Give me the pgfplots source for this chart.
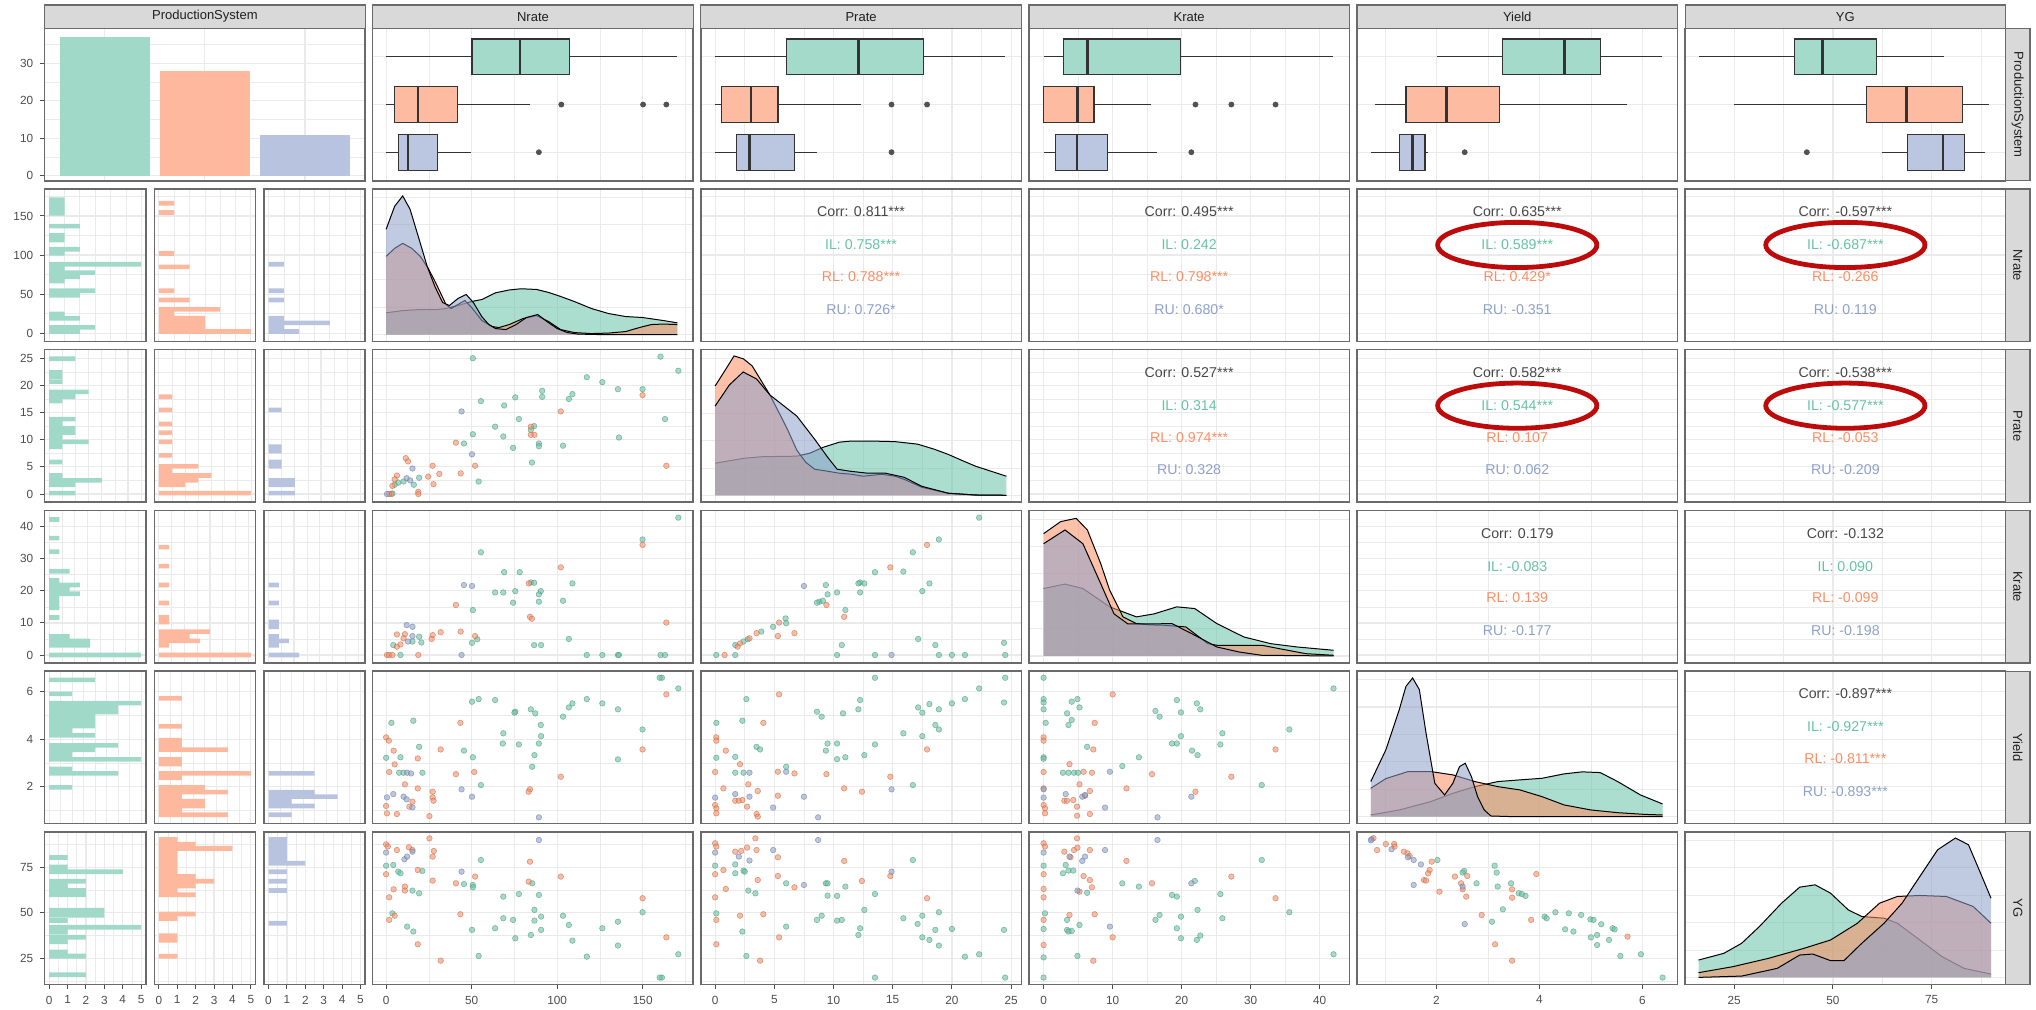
\documentclass[border=0pt]{standalone}
\usepackage{fontspec}
\setmainfont{Liberation Sans}
\usepackage{pgfplots}
\usepackage{pgfplotstable}
\pgfplotsset{compat=1.18}
\usepgfplotslibrary{statistics}

\definecolor{ILc}{HTML}{66C2A5}
\definecolor{RLc}{HTML}{FC8D62}
\definecolor{RUc}{HTML}{8DA0CB}
\definecolor{stripfill}{HTML}{D9D9D9}
\definecolor{framec}{HTML}{6A6A6A}
\definecolor{gridc}{HTML}{EAEAEA}
\definecolor{tickc}{HTML}{4D4D4D}
\definecolor{corrc}{HTML}{474747}
\definecolor{annot}{HTML}{BD0A0A}

\pgfplotsset{
  panel/.style={
    scale only axis, width=160.25pt, height=76.25pt, anchor=south west,
    axis line style={draw=framec, line width=0.75pt},
    grid=both,
    major grid style={draw=gridc, line width=0.6pt},
    minor grid style={draw=gridc, line width=0.3pt},
    tick align=outside, major tick length=2.2pt, minor tick length=0pt,
    xtick pos=left, ytick pos=left,
    xtick style={draw=none}, ytick style={draw=none},
    xticklabels={}, yticklabels={},
    tick label style={font=\fontsize{5.9}{6}\selectfont, text=tickc},
  },
  sub/.style={panel, width=50.585pt},
  xlab/.style={xticklabels={#1}, xtick style={draw=tickc, line width=0.5pt}},
  ylab/.style={yticklabels={#1}, ytick style={draw=tickc, line width=0.5pt}},
  % variable scales
  xN/.style={xmin=-7.84, xmax=179.5, xtick={0,50,100,150}, minor xtick={25,75,125,175}},
  yN/.style={ymin=-10.5, ymax=184.5, ytick={0,50,100,150}, minor ytick={25,75,125,175}},
  xP/.style={xmin=-1.21, xmax=25.86, xtick={0,5,...,25}, minor xtick={2.5,7.5,12.5,17.5,22.5}},
  yP/.style={ymin=-1.51, ymax=26.57, ytick={0,5,...,25}, minor ytick={2.5,7.5,12.5,17.5,22.5}},
  xK/.style={xmin=-2.13, xmax=44.3, xtick={0,10,...,40}, minor xtick={5,15,25,35}},
  yK/.style={ymin=-2.46, ymax=45.05, ytick={0,10,...,40}, minor ytick={5,15,25,35}},
  xY/.style={xmin=0.46, xmax=6.68, xtick={2,4,6}, minor xtick={1,3,5}},
  yY/.style={ymin=0.446, ymax=6.87, ytick={2,4,6}, minor ytick={1,3,5}},
  xG/.style={xmin=12.6, xmax=93.7, xtick={25,50,75}, minor xtick={37.5,62.5,87.5}},
  yG/.style={ymin=10.7, ymax=94.5, ytick={25,50,75}, minor ytick={12.5,37.5,62.5,87.5}},
  yC/.style={ymin=-1.36, ymax=39.4, ytick={0,10,20,30}, minor ytick={5,15,25,35}},
  xB/.style={xmin=0.4, xmax=3.6, xtick={1,2,3}},
  yB/.style={ymin=0.4, ymax=3.6, ytick={1,2,3}},
  yD/.style={ymin=-6.9, ymax=145.2, ytick={0,54.7,109.4}, minor ytick={27.3,82,136.7}},
  % count scales of the faceted histograms (one per row)
  h6/.style={xmin=-0.3, xmax=6.3, xtick={0,2,4,6}, minor xtick={1,3,5}},
  h7/.style={xmin=-0.35, xmax=7.35, xtick={0,2,4,6}, minor xtick={1,3,5,7}},
  h9/.style={xmin=-0.45, xmax=9.45, xtick={0,2.5,5,7.5}, minor xtick={1.25,3.75,6.25,8.75}},
  h4/.style={xmin=-0.2, xmax=4.2, xtick={0,...,4}, minor xtick={0.5,1.5,2.5,3.5}},
  h5/.style={xmin=-0.25, xmax=5.25, xtick={0,...,5}, minor xtick={0.5,1.5,2.5,3.5,4.5}},
  % marks
  sIL/.style={only marks, mark=*, mark size=1.4pt, mark options={fill=ILc, draw=ILc!70!black, line width=0.3pt, fill opacity=0.6, draw opacity=0.55}},
  sRL/.style={only marks, mark=*, mark size=1.4pt, mark options={fill=RLc, draw=RLc!70!black, line width=0.3pt, fill opacity=0.6, draw opacity=0.55}},
  sRU/.style={only marks, mark=*, mark size=1.4pt, mark options={fill=RUc, draw=RUc!70!black, line width=0.3pt, fill opacity=0.6, draw opacity=0.55}},
  hb/.style={xbar, bar shift=0pt, draw=none, fill=#1!62},
  outl/.style={only marks, mark=*, mark size=1.25pt, color=black!68},
}

\tikzset{ctext/.style={font=\fontsize{7.1}{7.8}\selectfont, anchor=center}}

% density: filled area plus upper outline
\newcommand{\dens}[2]{%
  \addplot[draw=none, fill=#1, fill opacity=0.55] table {#2} \closedcycle;
  \addplot[draw=black, line width=0.5pt] table {#2};}

% horizontal box plot from prepared statistics
\newcommand{\bx}[7]{%
  \addplot[fill=#1!60, draw=black!80, line width=0.55pt,
    boxplot/draw direction=x, boxplot/whisker extend=0,
    boxplot/every median/.style={line width=1.2pt},
    boxplot prepared={draw position=#2, lower whisker=#3, lower quartile=#4,
      median=#5, upper quartile=#6, upper whisker=#7, box extend=0.75}] coordinates {};}

% correlation text panel
\newcommand{\corr}[4]{%
  \node[ctext, text=corrc] at (rel axis cs:0.5,0.851) {Corr: #1};
  \node[ctext, text=ILc] at (rel axis cs:0.5,0.633) {IL: #2};
  \node[ctext, text=RLc] at (rel axis cs:0.5,0.425) {RL: #3};
  \node[ctext, text=RUc] at (rel axis cs:0.5,0.211) {RU: #4};}

\newcommand{\ring}{\draw[annot, line width=2.4pt] (rel axis cs:0.5,0.633) ellipse [x radius=39.8pt, y radius=11.3pt];}

% ---------------- density curves ----------------
\pgfplotstableread{
x y
0 21.7
10 24
20 25
30 25
35 26
42 29
50 33
56 35
64 41.7
72 44.5
79 45.7
88 45
95 42
102 38
110 33
120 26
130 21
140 18
150 17
162 14
170.3 11.7
}\dNIL
\pgfplotstableread{
x y
0 78
5 86
9.7 91
15 86
20 78
25 65
30 48
35 30
38 26
42 30
46 34
50 27
56 14
62 8
66 7
72 10
80 16
88 19
95 13
102 5
110 2
120 1
130 1.5
140 3
148 7
155 10
162 10.5
170.3 10
}\dNRL
\pgfplotstableread{
x y
0 105
5 128
9.7 138.3
14 125
19.3 95
24 68
28.5 48
33 32
37 29
42 36
46.8 40
51 32
55.9 18
60 10
64 6
70 5
76 10
82 17
88.6 20
94 13
100 6
106 2
112 0.5
125 0
170.3 0
}\dNRU

\pgfplotstableread{
x y
0 32
1 34
2.5 37
4 38.5
6.9 39
8 42
9.16 48
10.5 53
11.42 54
13.5 54
15.2 53.5
17.1 51
18.5 46
19.7 40.7
21 34
22 29
23.3 24
24.6 19
}\dPIL
\pgfplotstableread{
x y
0 109
0.86 125
1.6 139
2.4 136
3.13 129
4.63 100
5.5 80
6.14 65
6.9 45
7.65 33
8.4 26
9.5 24
10.5 22
11.5 21
12.5 19
13.3 20
14.06 21
15.2 19
15.95 16
17.45 8
19.7 2
22 0.3
24.6 0
}\dPRL
\pgfplotstableread{
x y
0 89
1.2 110
2.37 123
3.5 116
4.63 100
5.5 92
6.9 79
8.4 56
9.5 38
10.3 26
11.4 24
12.9 22
14.4 22
15.95 18
17.45 9
19.7 2
22 0.2
24.6 0
}\dPRU

\pgfplotstableread{
x y
0 67.3
3.1 71.7
5.69 67.3
9.57 49
13.45 39
16.0 42
19.3 49
21.9 47.3
25.1 32.3
29 19
32.9 12.3
36.7 9
42 5.7
}\dKIL
\pgfplotstableread{
x y
0 122
2.46 134
4.72 137.3
6.34 125.7
8.28 92
9.57 65.7
11.5 39
13.45 32.3
15.4 31
17.3 30.7
20.6 29
23.8 12.3
25.1 10.7
28.3 10.7
31.6 10.7
34.15 7.3
38 2.3
42 0.7
}\dKRL
\pgfplotstableread{
x y
0 112
3.1 125.7
5.69 112
8.28 72
10.2 42
12.2 32
15.4 32
18.6 32.3
21.9 20.7
25.1 9
28.3 4
31.6 0.7
42 0
}\dKRU

\pgfplotstableread{
x y
0.727 1.7
1.28 6.7
1.89 15
2.32 23.3
2.75 30
3.19 35
3.62 36.7
4.05 38.3
4.48 42.7
4.83 44.7
5.18 44
5.52 35
5.96 21.7
6.39 12.7
}\dYIL
\pgfplotstableread{
x y
0.727 28.3
1.02 38
1.45 45
1.89 45
2.32 41.7
2.75 35
3.19 30
3.62 26.7
4.05 20
4.48 11.7
5.0 6.7
5.52 4
6.04 2.3
6.39 1.7
}\dYRL
\pgfplotstableread{
x y
0.727 35
1.02 66.7
1.28 106.7
1.41 130
1.54 138.3
1.67 126.7
1.80 83.3
1.97 33.3
2.16 21.7
2.32 33.3
2.45 50
2.56 53.3
2.68 40
2.80 20
2.93 6.7
3.06 0.7
3.5 0
6.39 0
}\dYRU

\pgfplotstableread{
x y
16 17.3
22.4 24
26.9 34
31.4 50.7
37 74
41.6 90
45.5 92.3
49.4 84
53.9 67.3
57.3 60.7
62.95 59
66.3 54
72 37.3
77.6 20.7
83.2 9
90 3.3
}\dGIL
\pgfplotstableread{
x y
16 4.7
24.7 10.7
33.7 19
42.7 29
49.4 37.3
56.2 54
61.8 74
66.3 80.7
72 81.7
78.7 80.7
85.5 70.7
90 54
}\dGRL
\pgfplotstableread{
x y
16 0
26.9 1.3
35.9 9
41.6 22.3
44.9 23.3
49.4 16.7
52.8 16.7
57.3 34
62.95 54
67.5 74
72 100.7
76.5 127.3
81 139
84.3 132.3
87.7 100.7
90 79
}\dGRU

\begin{document}
\begin{tikzpicture}

% ================= row 1: ProductionSystem =================
\begin{axis}[panel, at={(22.3pt,414.1pt)}, xB, yC, ylab={0,10,20,30}]
\addplot[ybar, bar shift=0pt, bar width=0.9, draw=none, fill=ILc!62] coordinates {(1,37)};
\addplot[ybar, bar shift=0pt, bar width=0.9, draw=none, fill=RLc!62] coordinates {(2,28)};
\addplot[ybar, bar shift=0pt, bar width=0.9, draw=none, fill=RUc!62] coordinates {(3,11)};
\end{axis}

\begin{axis}[panel, at={(186.35pt,414.1pt)}, xN, yB]
\bx{ILc}{3}{0}{50.2}{78.1}{107.4}{170.3}
\bx{RLc}{2}{0}{5.0}{18.5}{41.5}{84.1}
\bx{RUc}{1}{0}{7.1}{12.8}{30.0}{49.4}
\addplot[outl] coordinates {(102.4,2) (150.2,2) (163.8,2) (89.3,1)};
\end{axis}

\begin{axis}[panel, at={(350.4pt,414.1pt)}, xP, yB]
\bx{ILc}{3}{0}{6.03}{12.1}{17.6}{24.5}
\bx{RLc}{2}{0}{0.57}{3.05}{5.31}{12.3}
\bx{RUc}{1}{0}{1.8}{2.9}{6.7}{8.6}
\addplot[outl] coordinates {(14.9,2) (17.9,2) (14.9,1)};
\end{axis}

\begin{axis}[panel, at={(514.45pt,414.1pt)}, xK, yB]
\bx{ILc}{3}{0}{2.85}{6.35}{19.8}{41.9}
\bx{RLc}{2}{0}{0}{4.9}{7.3}{15.6}
\bx{RUc}{1}{0}{1.7}{4.8}{9.25}{16.4}
\addplot[outl] coordinates {(22.0,2) (27.2,2) (33.6,2) (21.4,1)};
\end{axis}

\begin{axis}[panel, at={(678.5pt,414.1pt)}, xY, yB]
\bx{ILc}{3}{2.02}{3.28}{4.49}{5.19}{6.37}
\bx{RLc}{2}{0.80}{1.41}{2.2}{3.23}{5.70}
\bx{RUc}{1}{0.73}{1.29}{1.54}{1.78}{1.84}
\addplot[outl] coordinates {(2.55,1)};
\end{axis}

\begin{axis}[panel, at={(842.55pt,414.1pt)}, xG, yB]
\bx{ILc}{3}{16.0}{40.3}{47.4}{61.0}{78.0}
\bx{RLc}{2}{25.0}{58.4}{68.6}{82.9}{89.6}
\bx{RUc}{1}{62.4}{68.9}{77.8}{83.2}{88.5}
\addplot[outl] coordinates {(43.4,1)};
\end{axis}

% ================= row 2: Nrate =================
\begin{axis}[sub, at={(22.3pt,333.75pt)}, h6, yN, ylab={0,50,100,150}]
\addplot[hb=ILc, bar width=5.9] coordinates {(1,171) (1,165.3) (1,159.4) (1,153.5) (2,137.1) (1,125.2) (1,119.3) (2,107.4) (1,102.1) (6,88.3) (1,82.8) (3,77.5) (2,72.2) (1,66.9) (3,54.4) (2,48.5) (1,24.8) (2,19.3) (3,7.6) (2,2.3)};
\end{axis}
\begin{axis}[sub, at={(77.135pt,333.75pt)}, h6, yN]
\addplot[hb=RLc, bar width=5.9] coordinates {(1,166.3) (1,154.4) (1,102) (2,85) (1,54.4) (2,42.6) (4,30.5) (1,25) (3,19.3) (3,13.4) (3,7.6) (6,2.3)};
\end{axis}
\begin{axis}[sub, at={(131.965pt,333.75pt)}, h6, yN]
\addplot[hb=RUc, bar width=5.9] coordinates {(1,88.3) (1,54.4) (1,42.6) (1,19.3) (4,13.4) (1,7.6) (2,2.3)};
\end{axis}

\begin{axis}[panel, at={(186.35pt,333.75pt)}, xN, yD]
\dens{ILc}{\dNIL}
\dens{RLc}{\dNRL}
\dens{RUc}{\dNRU}
\end{axis}

\begin{axis}[panel, at={(350.4pt,333.75pt)}, xP, yN, clip=false]
\corr{0.811***}{0.758***}{0.788***}{0.726*}
\end{axis}
\begin{axis}[panel, at={(514.45pt,333.75pt)}, xK, yN, clip=false]
\corr{0.495***}{0.242}{0.798***}{0.680*}
\end{axis}
\begin{axis}[panel, at={(678.5pt,333.75pt)}, xY, yN, clip=false]
\corr{0.635***}{0.589***}{0.429*}{-0.351}
\ring
\end{axis}
\begin{axis}[panel, at={(842.55pt,333.75pt)}, xG, yN, clip=false]
\corr{-0.597***}{-0.687***}{-0.266}{0.119}
\ring
\end{axis}

% ================= row 3: Prate =================
\begin{axis}[sub, at={(22.3pt,253.4pt)}, h7, yP, ylab={0,5,10,15,20,25}]
\addplot[hb=ILc, bar width=0.845] coordinates {(2,24.9) (1,22.4) (1,21.6) (1,20.7) (3,18.8) (2,17.9) (1,17.1) (2,13.8) (1,13.0) (2,12.1) (2,11.3) (1,10.4) (3,9.6) (1,8.7) (1,5.9) (1,3.4) (4,2.5) (2,1.7) (2,0.15)};
\end{axis}
\begin{axis}[sub, at={(77.135pt,253.4pt)}, h7, yP]
\addplot[hb=RLc, bar width=0.845] coordinates {(1,17.9) (1,15.5) (1,12.9) (1,11.3) (1,9.6) (1,7.1) (3,5.1) (1,4.3) (4,3.4) (3,2.5) (2,1.7) (7,0.15)};
\end{axis}
\begin{axis}[sub, at={(131.965pt,253.4pt)}, h7, yP]
\addplot[hb=RUc, bar width=0.845] coordinates {(1,15.5) (1,8.7) (1,7.9) (1,5.9) (1,5.1) (2,2.5) (2,1.7) (2,0.15)};
\end{axis}

\begin{axis}[panel, at={(186.35pt,253.4pt)}, xN, yP]
\addplot[sIL] coordinates {(50.7,25) (160.4,25.3) (170.8,22.7) (117.3,21.5) (126.4,20.6) (135.5,19.3) (149.9,19.3) (91.2,19.0) (91.2,17.9) (75.5,17.8) (108.9,18.4) (106.8,17.5) (55.4,17.1) (69.0,16.3) (77.6,13.8) (163,13.8) (63.7,12.4) (86.5,12.5) (84.6,11.8) (50.7,11.0) (68.5,10.6) (136.1,10.4) (45.5,9.3) (89.3,9.3) (89.3,8.8) (103.4,8.9) (74.2,8.5) (85.2,5.8) (54.1,2.3) (19.3,3.0) (10.2,2.3) (16.2,1.7) (7.1,2.1) (5.0,1.7) (3.7,0.1)};
\addplot[sRL] coordinates {(149.9,18.2) (102.1,15.2) (84.6,12.4) (84.6,10.9) (86.7,10.9) (40.8,9.45) (52,5.2) (163.8,5.2) (43.6,3.8) (27.2,5.2) (31.1,3.7) (24.6,3.2) (27.7,1.8) (11.5,6.6) (12.8,6.0) (6.3,3.4) (5.0,2.7) (3.7,1.5) (18.8,0.4) (18.8,0) (3.1,0) (1.8,0)};
\addplot[sRU] coordinates {(44.1,15.2) (50.2,7.3) (15.4,4.7) (12,2.9) (14.1,2.5) (0.5,0)};
\end{axis}

\begin{axis}[panel, at={(350.4pt,253.4pt)}, xP, yD]
\dens{ILc}{\dPIL}
\dens{RLc}{\dPRL}
\dens{RUc}{\dPRU}
\end{axis}

\begin{axis}[panel, at={(514.45pt,253.4pt)}, xK, yP, clip=false]
\corr{0.527***}{0.314}{0.974***}{0.328}
\end{axis}
\begin{axis}[panel, at={(678.5pt,253.4pt)}, xY, yP, clip=false]
\corr{0.582***}{0.544***}{0.107}{0.062}
\ring
\end{axis}
\begin{axis}[panel, at={(842.55pt,253.4pt)}, xG, yP, clip=false]
\corr{-0.538***}{-0.577***}{-0.053}{-0.209}
\ring
\end{axis}

% ================= row 4: Krate =================
\begin{axis}[sub, at={(22.3pt,173.05pt)}, h9, yK, ylab={0,10,20,30,40}]
\addplot[hb=ILc, bar width=1.448] coordinates {(1,42.2) (1,36.4) (1,32.2) (2,26.1) (1,23.2) (3,21.8) (2,20.5) (3,19.1) (1,17.6) (1,16.2) (1,14.7) (1,11.7) (2,5.8) (4,4.4) (4,3.0) (9,0)};
\end{axis}
\begin{axis}[sub, at={(77.135pt,173.05pt)}, h9, yK]
\addplot[hb=RLc, bar width=1.448] coordinates {(1,33.6) (1,27.7) (1,21.8) (1,16.2) (1,11.7) (1,10.3) (5,7.3) (3,5.8) (4,4.4) (1,3.0) (9,0)};
\end{axis}
\begin{axis}[sub, at={(131.965pt,173.05pt)}, h9, yK]
\addplot[hb=RUc, bar width=1.448] coordinates {(1,21.8) (1,16.2) (1,10.3) (1,8.8) (1,5.8) (2,4.4) (1,3.0) (3,0)};
\end{axis}

\begin{axis}[panel, at={(186.35pt,173.05pt)}, xN, yK]
\addplot[sIL] coordinates {(170.8,42.8) (149.9,36.0) (55.4,32.0) (69.0,25.8) (78.1,25.8) (108.9,22.3) (84.6,22.6) (86.5,22.5) (63.7,19.5) (68.5,19.5) (75.5,19.9) (90.4,19.9) (89.3,18.9) (74.2,16.3) (89.3,16.6) (103.4,16.9) (50.7,14.0) (53.3,4.9) (50.2,3.8) (106.8,5.0) (86.5,3.1) (90.6,3.1) (19.3,5.7) (15.4,4.2) (20.6,3.9) (4.2,3.1) (8.4,0) (117.3,0) (126.4,0) (135.5,0) (136.1,0) (160.4,0) (163,0)};
\addplot[sRL] coordinates {(149.9,34.3) (102.1,27.3) (83.4,22.3) (40.8,15.6) (84.1,11.9) (85.2,11.3) (163.8,10.1) (43.6,7.3) (52,5.9) (31.9,7.1) (27.2,6.2) (26.6,5.0) (6.3,6.4) (11,6.5) (10.2,5.2) (6.3,2.6) (8.4,3.3) (0.5,0) (1.8,0) (3.7,0) (18.8,0)};
\addplot[sRU] coordinates {(45.5,21.8) (50.2,21.5) (12,9.3) (15.4,8.8) (15.4,5.9) (12.8,4.2) (44.1,0)};
\end{axis}

\begin{axis}[panel, at={(350.4pt,173.05pt)}, xP, yK]
\addplot[sIL] coordinates {(22.3,42.8) (18.9,36.0) (16.7,32.0) (13.5,25.8) (15.9,26.0) (12.25,22.6) (12.1,22.3) (12.6,22.3) (9.35,21.8) (18.1,22.3) (10.3,19.5) (9.5,18.9) (12.25,19.5) (17.5,19.9) (8.8,16.6) (8.6,16.3) (9.1,16.9) (11.0,14.0) (5.95,11.4) (6.0,9.9) (4.9,8.8) (3.9,7.3) (2.75,4.9) (2.4,4.2) (1.7,3.1) (10.7,3.1) (17.15,5.0) (18.6,3.1) (24.4,3.8) (0.1,0) (1.7,0) (10.3,0) (13.5,0) (18.9,0) (20.0,0) (21.1,0) (24.5,0)};
\addplot[sRL] coordinates {(17.9,34.3) (14.8,27.3) (9.4,15.6) (10.9,11.9) (6.7,6.8) (5.3,5.9) (5.4,10.1) (3.5,6.8) (2.9,5.2) (2.1,3.6) (1.9,2.6) (0.8,0)};
\addplot[sRU] coordinates {(7.5,21.5) (14.9,0)};
\end{axis}

\begin{axis}[panel, at={(514.45pt,173.05pt)}, xK, yD]
\dens{ILc}{\dKIL}
\dens{RLc}{\dKRL}
\dens{RUc}{\dKRU}
\end{axis}

\begin{axis}[panel, at={(678.5pt,173.05pt)}, xY, yK, clip=false]
\corr{0.179}{-0.083}{0.139}{-0.177}
\end{axis}
\begin{axis}[panel, at={(842.55pt,173.05pt)}, xG, yK, clip=false]
\corr{-0.132}{0.090}{-0.099}{-0.198}
\end{axis}

% ================= row 5: Yield =================
\begin{axis}[sub, at={(22.3pt,92.7pt)}, h4, yY, ylab={2,4,6}]
\addplot[hb=ILc, bar width=0.195] coordinates {(2,6.50) (1,5.91) (4,5.52) (3,5.33) (3,5.14) (2,4.97) (2,4.77) (2,4.56) (1,4.37) (2,4.17) (3,3.74) (2,3.55) (1,3.35) (4,3.15) (1,2.75) (3,2.56) (1,1.97)};
\end{axis}
\begin{axis}[sub, at={(77.135pt,92.7pt)}, h4, yY]
\addplot[hb=RLc, bar width=0.195] coordinates {(1,5.72) (1,4.54) (1,3.96) (1,3.76) (3,3.56) (1,3.15) (1,2.95) (4,2.56) (1,2.37) (2,1.97) (3,1.77) (1,1.58) (2,1.39) (2,1.19) (1,1.0) (3,0.82)};
\end{axis}
\begin{axis}[sub, at={(131.965pt,92.7pt)}, h4, yY]
\addplot[hb=RUc, bar width=0.195] coordinates {(2,2.56) (2,1.77) (3,1.58) (1,1.39) (2,1.19) (1,0.82)};
\end{axis}

\begin{axis}[panel, at={(186.35pt,92.7pt)}, xN, yY]
\addplot[sIL] coordinates {(161.2,6.59) (159.9,6.59) (170.8,6.14) (50.2,5.58) (54.1,5.69) (63.7,5.65) (117.3,5.69) (126.4,5.51) (135.5,5.26) (75.5,5.16) (75,5.12) (84.6,5.26) (87.2,5.09) (108.9,5.51) (106.8,5.34) (103.4,4.95) (3.1,4.69) (15.9,4.78) (90.4,4.60) (149.9,4.41) (68.5,4.25) (90.6,4.13) (68.2,3.82) (77.6,3.78) (89.3,3.82) (19.3,3.68) (45.5,3.52) (86.7,3.33) (50.7,3.24) (135.5,3.15) (0,3.22) (8.4,3.24) (85.4,2.84) (7.6,2.59) (10.2,2.59) (21.2,2.59) (55.4,2.07)};
\addplot[sRL] coordinates {(163.8,5.89) (43.4,4.69) (0,4.08) (1.6,3.94) (31.9,3.57) (149.9,3.57) (4.4,3.52) (18.5,3.19) (5.0,2.94) (1.8,2.62) (51.5,2.62) (40.8,2.53) (102.1,2.42) (11,2.10) (18.5,1.93) (84.1,1.89) (83.3,1.79) (27.2,1.79) (27.2,1.55) (27.7,1.41) (15.4,1.37) (13.6,1.16) (0,1.19) (0.5,0.88) (6.3,0.85) (25.3,0.76)};
\addplot[sRU] coordinates {(12.3,2.59) (14.6,2.56) (44.1,1.89) (0.5,1.55) (4.2,1.69) (10.2,1.58) (12,1.47) (50.2,1.58) (15.4,1.13) (89.3,0.71)};
\end{axis}

\begin{axis}[panel, at={(350.4pt,92.7pt)}, xP, yY]
\addplot[sIL] coordinates {(13.5,6.59) (24.5,6.59) (22.3,6.14) (2.64,5.69) (12.25,5.65) (21.1,5.69) (24.4,5.55) (17.15,5.34) (18.1,5.48) (20.0,5.51) (12.1,5.26) (17.5,5.12) (18.9,5.26) (8.6,5.16) (9.0,4.95) (10.8,5.09) (0.1,4.69) (2.3,4.78) (18.6,4.60) (18.9,4.41) (15.9,4.25) (17.5,4.13) (9.5,3.82) (10.3,3.82) (13.5,3.78) (3.5,3.68) (3.8,3.57) (9.35,3.52) (12.6,3.33) (0.1,3.22) (1.7,3.26) (10.3,3.16) (11.0,3.24) (1.7,2.59) (2.4,2.59) (6.0,2.84) (16.7,2.07)};
\addplot[sRL] coordinates {(5.4,5.89) (4.07,4.69) (0.1,4.08) (0.1,3.94) (17.9,3.57) (0.9,3.52) (2.1,2.95) (0,2.62) (5.3,2.63) (6.7,2.56) (9.4,2.53) (14.8,2.42) (0.7,1.93) (2.8,2.10) (10.9,1.93) (12.4,1.79) (3.6,1.82) (5.3,1.62) (1.7,1.41) (2.0,1.41) (2.3,1.44) (0,1.23) (0.1,1.09) (0.1,0.88) (2.7,1.16) (3.5,0.85) (3.6,0.74)};
\addplot[sRU] coordinates {(2.9,2.59) (6.0,2.63) (14.9,1.89) (0,1.54) (1.7,1.69) (2.9,1.58) (7.5,1.58) (4.9,1.12) (8.7,0.71)};
\end{axis}

\begin{axis}[panel, at={(514.45pt,92.7pt)}, xK, yY]
\addplot[sIL] coordinates {(0,6.59) (42.0,6.14) (0,5.69) (0,5.55) (0,5.26) (4.07,5.58) (4.9,5.69) (5.2,5.34) (3.4,5.09) (4.07,4.81) (3.6,4.60) (19.3,5.65) (22.2,5.51) (22.7,5.26) (16.2,5.19) (16.8,4.95) (19.9,5.13) (0.3,4.69) (35.6,4.41) (25.9,4.25) (25.6,3.78) (19.9,4.13) (18.6,3.82) (19.3,3.82) (6.3,3.68) (21.5,3.52) (22.3,3.33) (0,3.24) (0,3.18) (13.8,3.24) (11.4,2.87) (2.8,2.59) (3.6,2.59) (4.4,2.59) (5.0,2.59) (31.6,2.07)};
\addplot[sRL] coordinates {(10.0,5.89) (7.4,4.69) (0,4.08) (0,3.94) (7.2,3.57) (33.6,3.57) (3.75,2.95) (0,2.62) (5.8,2.63) (7.0,2.59) (15.7,2.53) (27.2,2.42) (0,1.93) (5.2,2.10) (12.0,1.93) (6.7,1.82) (6.0,1.62) (22.0,1.79) (3.0,1.41) (3.4,1.41) (4.3,1.44) (0,1.23) (0.2,1.09) (0.2,0.88) (4.85,1.16) (4.85,0.78) (6.7,0.85)};
\addplot[sRU] coordinates {(9.6,2.63) (0,1.89) (21.4,1.58) (0,1.54) (3.2,1.69) (5.6,1.58) (6.0,1.65) (8.9,1.12) (16.5,0.71)};
\end{axis}

\begin{axis}[panel, at={(678.5pt,92.7pt)}, xY, yD]
\dens{ILc}{\dYIL}
\dens{RLc}{\dYRL}
\dens{RUc}{\dYRU}
\end{axis}

\begin{axis}[panel, at={(842.55pt,92.7pt)}, xG, yY, clip=false]
\corr{-0.897***}{-0.927***}{-0.811***}{-0.893***}
\end{axis}

% ================= row 6: YG =================
\begin{axis}[sub, at={(22.3pt,12.35pt)}, h5, yG, ylab={25,50,75}, xlab={0,1,2,3,4,5}]
\addplot[hb=ILc, bar width=2.64] coordinates {(1,80.4) (1,75.1) (4,72.5) (2,67.3) (1,64.8) (2,62.3) (2,59.9) (3,51.4) (3,48.6) (1,45.8) (5,42.1) (1,39.4) (2,36.6) (1,34.1) (1,28.5) (2,26.2) (2,15.9)};
\end{axis}
\begin{axis}[sub, at={(77.135pt,12.35pt)}, h5, yG, xlab={0,1,2,3,4,5}]
\addplot[hb=RLc, bar width=2.64] coordinates {(1,90.3) (2,87.7) (4,85.4) (1,82.9) (1,80.2) (1,77.6) (1,75.0) (1,72.5) (2,69.9) (3,67.3) (2,64.8) (1,62.3) (2,59.9) (2,49.3) (1,46.9) (1,37.3) (1,34.9) (1,26.1)};
\end{axis}
\begin{axis}[sub, at={(131.965pt,12.35pt)}, h5, yG, xlab={0,1,2,3,4,5}]
\addplot[hb=RUc, bar width=2.64] coordinates {(1,90.3) (1,87.7) (1,85.0) (1,82.4) (1,79.8) (2,77.2) (1,72.5) (1,67.3) (1,62.3) (1,44.3)};
\end{axis}

\begin{axis}[panel, at={(186.35pt,12.35pt)}, xN, yG, xlab={0,50,100,150}]
\addplot[sIL] coordinates {(55.4,79.0) (0,75.9) (4.2,76.3) (7.1,72.6) (8.4,71.7) (21.2,73.0) (45.5,65.8) (50.7,65.3) (50.7,64.0) (85.4,66.2) (15.4,62.2) (19.3,60.7) (68.5,58.9) (77.6,60.3) (89.3,59.8) (86.7,51.6) (149.9,50.3) (3.7,49.7) (103.4,48.4) (90.6,47.9) (68.5,47.0) (74.2,46.1) (86.7,45.7) (135.5,45.1) (106.8,43.3) (12.3,42.4) (63.7,41.5) (50.2,40.6) (90.6,40.6) (126.4,41.5) (15.9,39.7) (84.6,37.8) (75.5,36.0) (108.9,34.7) (135.5,32.0) (170.8,27.2) (54.1,26.3) (117.3,25.9) (161.2,14.4) (159.9,14.4)};
\addplot[sRL] coordinates {(25.3,90.9) (0,87.6) (1.0,86.4) (6.3,84.5) (13.3,86.0) (15.4,84.5) (27.9,84.0) (27.2,80.9) (84.1,78.1) (0,71.2) (18.5,73.5) (52,69.9) (102.1,69.9) (27.2,67.7) (40.8,66.2) (83.3,67.1) (4.4,62.9) (11,64.4) (11,62.2) (1.8,58.5) (149.9,58.0) (5.0,48.4) (43.4,49.2) (1.8,46.1) (163.8,36.5) (18.5,32.7) (31.9,23.7)};
\addplot[sRU] coordinates {(89.3,90.0) (0,83.1) (15.4,83.6) (10.7,79.4) (12.3,80.9) (44.1,72.6)};
\end{axis}

\begin{axis}[panel, at={(350.4pt,12.35pt)}, xP, yG, xlab={0,5,10,15,20,25}]
\addplot[sIL] coordinates {(16.7,79.0) (0,75.9) (1.7,76.6) (1.7,71.7) (2.4,73.2) (2.5,72.6) (6.0,66.2) (9.35,66.2) (9.5,66.2) (11.0,64.4) (2.8,62.2) (3.4,60.7) (9.5,59.4) (10.3,59.3) (13.5,60.3) (12.6,51.6) (18.9,50.3) (0.1,49.7) (9.0,48.4) (8.6,46.1) (17.5,48.4) (10.3,45.7) (10.7,46.1) (15.9,47.0) (17.1,43.9) (6.0,42.4) (12.25,41.5) (18.6,40.6) (20.0,41.1) (24.4,40.6) (2.3,39.7) (12.1,37.8) (17.5,36.5) (18.1,35.1) (18.9,32.0) (2.64,26.3) (21.1,25.9) (22.3,27.2) (13.5,14.4) (24.5,14.4)};
\addplot[sRL] coordinates {(3.4,90.9) (0,88.2) (0.1,86.4) (1.7,83.6) (2.2,84.0) (2.7,85.8) (3.5,84.5) (5.3,80.5) (10.9,78.5) (0,71.2) (0.7,73.5) (14.8,70.2) (5.3,70.2) (3.6,68.0) (12.4,67.5) (6.7,64.0) (0.9,63.1) (0,58.5) (17.9,58.0) (2.1,48.4) (4.07,49.2) (0.1,46.1) (5.4,36.5) (0.1,32.7) (3.8,23.7)};
\addplot[sRU] coordinates {(8.7,90.0) (0,83.1) (4.9,84.5) (2.0,80.9) (2.9,78.7) (14.9,72.6) (7.5,65.3)};
\end{axis}

\begin{axis}[panel, at={(514.45pt,12.35pt)}, xK, yG, xlab={0,10,20,30,40}]
\addplot[sIL] coordinates {(31.6,79.0) (0,75.9) (3.2,76.3) (2.8,71.7) (3.6,73.2) (4.3,73.2) (21.9,67.5) (11.4,66.2) (6.3,61.0) (13.8,64.4) (18.6,59.8) (19.3,58.9) (25.6,60.3) (22.3,51.6) (35.6,50.3) (0.2,49.7) (16.8,48.8) (16.2,46.1) (19.9,47.9) (25.9,47.0) (3.4,46.1) (5.2,43.3) (0,41.1) (3.4,40.6) (4.07,40.0) (19.3,41.5) (3.6,39.7) (19.9,36.0) (22.2,35.1) (22.7,37.5) (0,25.5) (4.9,26.3) (42.0,27.2) (0,14.4)};
\addplot[sRL] coordinates {(4.85,90.9) (0,88.2) (0.2,86.4) (3.0,83.6) (4.4,84.5) (4.9,85.8) (6.7,84.5) (3.9,80.5) (12.0,78.5) (0,71.2) (5.8,70.2) (6.7,68.0) (27.2,69.9) (15.7,66.2) (5.2,61.6) (7.0,64.0) (0,63.1) (0,58.5) (33.6,58.0) (3.75,48.8) (7.4,49.2) (0,46.1) (10.0,36.5) (0,32.3) (7.2,23.7)};
\addplot[sRU] coordinates {(16.5,90.0) (0,83.1) (8.9,84.5) (3.75,80.9) (5.6,78.5) (6.0,80.9) (21.4,66.2) (4.9,62.2) (9.6,42.4)};
\end{axis}

\begin{axis}[panel, at={(678.5pt,12.35pt)}, xY, yG, xlab={2,4,6}]
\addplot[sIL] coordinates {(2.02,79.0) (2.54,73.0) (2.51,72.1) (2.78,66.2) (3.13,75.9) (3.17,72.1) (3.19,64.4) (3.45,66.2) (3.60,60.7) (3.66,60.3) (3.73,59.3) (3.29,51.9) (3.08,45.1) (4.10,47.9) (4.14,47.0) (4.31,50.3) (4.57,49.7) (4.81,48.8) (4.99,46.4) (5.05,46.1) (5.20,43.7) (4.50,40.9) (4.66,39.7) (5.42,41.5) (5.46,40.9) (5.00,36.5) (5.12,37.8) (5.35,35.1) (5.12,32.3) (5.57,26.3) (5.97,27.2) (6.39,14.4)};
\addplot[sRL] coordinates {(0.78,91.0) (0.85,84.5) (1.02,87.8) (1.18,87.8) (1.19,86.4) (1.37,83.6) (1.44,82.7) (1.48,81.2) (1.91,78.1) (1.87,73.5) (1.84,71.7) (1.76,68.0) (1.80,67.7) (2.06,61.6) (2.60,70.2) (2.36,69.9) (2.48,66.2) (2.51,62.9) (2.58,58.9) (3.94,71.3) (3.47,62.9) (3.47,58.3) (2.88,48.8) (3.84,46.1) (5.71,36.9) (3.14,32.7) (3.47,23.7)};
\addplot[sRU] coordinates {(0.74,90.4) (0.73,89.8) (1.13,84.9) (1.45,80.5) (1.56,79.0) (1.70,76.6) (1.56,65.3) (2.51,64.4) (2.55,43.8)};
\end{axis}

\begin{axis}[panel, at={(842.55pt,12.35pt)}, xG, yD, xlab={25,50,75}]
\dens{ILc}{\dGIL}
\dens{RLc}{\dGRL}
\dens{RUc}{\dGRU}
\end{axis}

% ================= facet strips =================
\foreach \cx/\lab in {22.3/ProductionSystem, 186.35/Nrate, 350.4/Prate, 514.45/Krate, 678.5/Yield, 842.55/YG}{
  \draw[fill=stripfill, draw=framec, line width=0.6pt] (\cx pt,490.35pt) rectangle ++(160.25pt,11.65pt);
  \node[font=\fontsize{6.5}{7}\selectfont, text=black!88] at (\cx pt+80.125pt,496.2pt) {\lab};
}
\foreach \ry/\lab in {414.1/ProductionSystem, 333.75/Nrate, 253.4/Prate, 173.05/Krate, 92.7/Yield, 12.35/YG}{
  \draw[fill=stripfill, draw=framec, line width=0.6pt] (1002.8pt,\ry pt) rectangle ++(12.2pt,76.25pt);
  \node[font=\fontsize{6.5}{7}\selectfont, text=black!88, rotate=-90] at (1008.9pt,\ry pt+38.125pt) {\lab};
}

\pgfresetboundingbox
\useasboundingbox (0,0) rectangle (1018pt,504.5pt);
\end{tikzpicture}
\end{document}
